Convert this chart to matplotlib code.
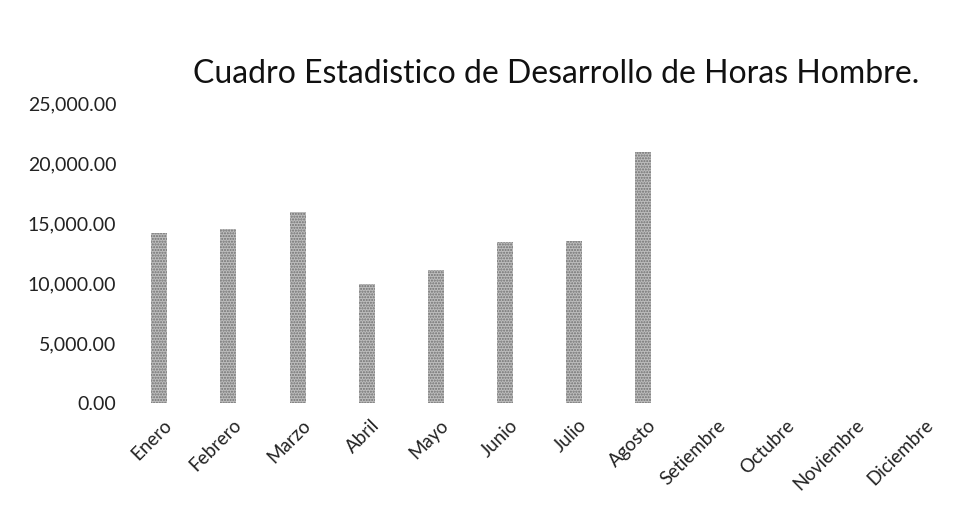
import matplotlib
matplotlib.use("Agg")
import matplotlib.pyplot as plt
import matplotlib.transforms as mtransforms
from matplotlib.ticker import FuncFormatter

months = ["Enero", "Febrero", "Marzo", "Abril", "Mayo", "Junio", "Julio",
          "Agosto", "Setiembre", "Octubre", "Noviembre", "Diciembre"]
horas = [14200, 14500, 15950, 9900, 11050, 13450, 13500, 20950,
         0, 0, 0, 0]
y_ticks = [0, 5000, 10000, 15000, 20000, 25000]

plt.rcParams["font.family"] = ["Lato", "DejaVu Sans"]

fig = plt.figure(figsize=(9.74, 5.26), dpi=100)
ax = fig.add_axes([0.128, 0.234, 0.852, 0.57])

x = list(range(len(months)))
ax.bar(x, horas, width=0.23, color="#bdbdbd", edgecolor="#707070",
       linewidth=0, hatch="......")

ax.set_xlim(-0.5, len(months) - 0.5)
ax.set_ylim(0, 25000)
ax.set_yticks(y_ticks)
ax.yaxis.set_major_formatter(FuncFormatter(lambda v, p: f"{v:,.2f}"))
ax.tick_params(axis="y", length=0, pad=6, labelsize=14, colors="#222222")
ax.tick_params(axis="x", length=0, pad=4, labelsize=13.5, colors="#222222")

ax.set_xticks(x)
ax.set_xticklabels(months, rotation=45, ha="right", va="center",
                   rotation_mode="anchor")
offset = mtransforms.ScaledTranslation(10 / 100, -14 / 100, fig.dpi_scale_trans)
for lbl in ax.get_xticklabels():
    lbl.set_transform(lbl.get_transform() + offset)

for s in ax.spines.values():
    s.set_visible(False)

fig.text(0.571, 0.86, "Cuadro Estadistico de Desarrollo de Horas Hombre.",
         ha="center", va="center", fontsize=23, color="#111111")

fig.savefig("out.png", dpi=100, facecolor="white")
